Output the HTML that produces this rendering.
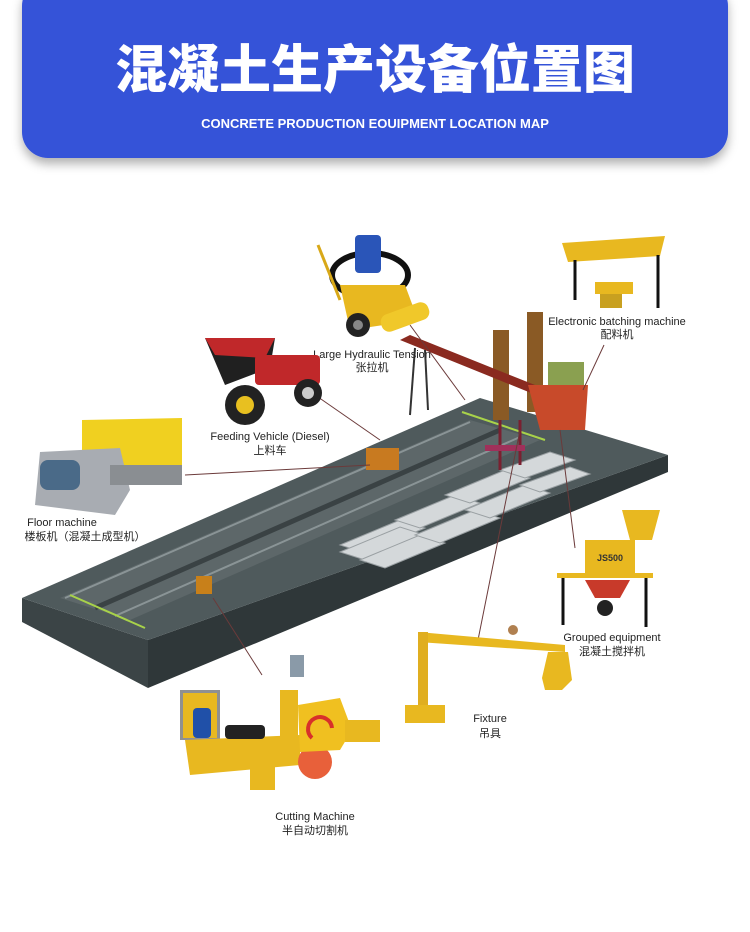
<!DOCTYPE html>
<html><head><meta charset="utf-8"><style>
html,body{margin:0;padding:0;background:#fff;width:750px;height:932px;overflow:hidden}
svg{display:block}
.t{font-family:"Liberation Sans","Noto Sans CJK SC",sans-serif;fill:#222;font-size:11px}
</style></head><body>
<svg width="750" height="932" viewBox="0 0 750 932" xmlns="http://www.w3.org/2000/svg">
<defs>
<filter id="sh" x="-5%" y="-10%" width="110%" height="130%"><feDropShadow dx="0" dy="6" stdDeviation="5" flood-color="#000" flood-opacity="0.3"/></filter>
</defs>
<rect x="22" y="-20" width="706" height="178" rx="26" fill="#3553d8" filter="url(#sh)"/>
<text x="375" y="88" text-anchor="middle" font-family="'Noto Sans CJK SC',sans-serif" font-weight="900" font-size="52" fill="#fff">混凝土生产设备位置图</text>
<text x="375" y="128" text-anchor="middle" font-family="'Liberation Sans',sans-serif" font-weight="bold" font-size="13" fill="#fff">CONCRETE PRODUCTION EOUIPMENT LOCATION MAP</text>

<!-- slab -->
<polygon points="22,598 148,640 148,688 22,622" fill="#3b4446"/>
<polygon points="148,640 668,455 668,472 148,688" fill="#2f3739"/>
<polygon points="22,598 480,398 668,455 148,640" fill="#4f5a5c"/>
<polygon points="60,598 470,420 540,440 130,620" fill="#5d6769"/>
<line x1="65" y1="598" x2="470" y2="422" stroke="#8a9496" stroke-width="2"/>
<line x1="95" y1="608" x2="500" y2="430" stroke="#3a4244" stroke-width="5"/>
<line x1="115" y1="616" x2="520" y2="437" stroke="#8a9496" stroke-width="2"/>
<line x1="70" y1="595" x2="145" y2="628" stroke="#a8d24a" stroke-width="2"/>
<line x1="462" y1="412" x2="545" y2="440" stroke="#a8d24a" stroke-width="2"/>
<g fill="#d4d8da" stroke="#9aa0a3" stroke-width="1">
<polygon points="340,545 400,520 425,528 365,553"/><polygon points="340,552 400,527 425,535 365,560"/>
<polygon points="360,560 420,535 445,543 385,568"/>
<polygon points="395,520 455,495 480,503 420,528"/><polygon points="415,535 475,510 500,518 440,543"/>
<polygon points="445,495 505,470 530,478 470,503"/><polygon points="465,510 525,485 550,493 490,518"/>
<polygon points="500,470 550,452 575,460 525,478"/><polygon points="520,485 570,467 590,474 540,492"/>
</g>
<rect x="493" y="330" width="16" height="90" fill="#8a5a25"/>
<rect x="527" y="312" width="16" height="100" fill="#8a5a25"/>
<polygon points="400,340 410,335 585,405 578,412" fill="#8a2a20"/>
<line x1="415" y1="348" x2="410" y2="415" stroke="#333" stroke-width="2"/>
<line x1="425" y1="350" x2="428" y2="410" stroke="#333" stroke-width="2"/>
<rect x="548" y="362" width="36" height="32" fill="#8aa050"/>
<polygon points="528,385 588,385 585,430 540,430" fill="#c84a2a"/>
<line x1="500" y1="420" x2="500" y2="470" stroke="#7a2030" stroke-width="3"/>
<line x1="520" y1="420" x2="520" y2="465" stroke="#7a2030" stroke-width="3"/>
<rect x="485" y="445" width="40" height="6" fill="#a0305a"/>
<rect x="366" y="448" width="33" height="22" fill="#c87a20"/>
<rect x="196" y="576" width="16" height="18" fill="#c8801a"/>

<g stroke="#6b3a3a" stroke-width="1" fill="none">
<line x1="185" y1="475" x2="370" y2="465"/>
<line x1="318" y1="397" x2="380" y2="440"/>
<line x1="410" y1="325" x2="465" y2="400"/>
<line x1="604" y1="345" x2="583" y2="390"/>
<line x1="560" y1="430" x2="575" y2="548"/>
<line x1="520" y1="430" x2="478" y2="640"/>
<line x1="213" y1="598" x2="262" y2="675"/>
</g>

<ellipse cx="370" cy="275" rx="38" ry="22" fill="none" stroke="#111" stroke-width="6"/>
<rect x="355" y="235" width="26" height="38" rx="4" fill="#2a55b8"/>
<polygon points="340,285 405,285 418,320 350,330" fill="#e8b820"/>
<rect x="380" y="308" width="50" height="18" rx="8" fill="#f0c82a" transform="rotate(-20 405 317)"/>
<circle cx="358" cy="325" r="12" fill="#222"/><circle cx="358" cy="325" r="5" fill="#888"/>
<line x1="318" y1="245" x2="340" y2="300" stroke="#d8a818" stroke-width="3"/>
<text class="t" x="372" y="358" text-anchor="middle" font-size="10">Large Hydraulic Tension</text>
<text class="t" x="372" y="371" text-anchor="middle" font-size="11">张拉机</text>

<polygon points="205,338 275,338 270,368 225,385" fill="#202020"/>
<polygon points="205,338 275,338 265,358 215,355" fill="#c0282a"/>
<rect x="255" y="355" width="65" height="30" rx="4" fill="#c0282a"/>
<circle cx="245" cy="405" r="20" fill="#222"/><circle cx="245" cy="405" r="9" fill="#e8c020"/>
<circle cx="308" cy="393" r="14" fill="#222"/><circle cx="308" cy="393" r="6" fill="#ccc"/>
<text class="t" x="270" y="440" text-anchor="middle" font-size="12">Feeding Vehicle (Diesel)</text>
<text class="t" x="270" y="454" text-anchor="middle" font-size="11">上料车</text>

<polygon points="82,420 182,418 182,468 112,482 82,470" fill="#f0d020"/>
<polygon points="40,452 120,448 130,490 115,515 35,505" fill="#a8acb2"/>
<rect x="40" y="460" width="40" height="30" rx="8" fill="#4a6a88"/>
<rect x="110" y="465" width="72" height="20" fill="#8a8e92"/>
<text class="t" x="62" y="526" text-anchor="middle" font-size="12">Floor machine</text>
<text class="t" x="85" y="540" text-anchor="middle" font-size="11">楼板机（混凝土成型机）</text>

<polygon points="562,243 665,236 660,256 568,262" fill="#e8b820"/>
<line x1="575" y1="260" x2="575" y2="300" stroke="#111" stroke-width="3"/>
<line x1="658" y1="255" x2="658" y2="308" stroke="#111" stroke-width="3"/>
<rect x="595" y="282" width="38" height="12" fill="#e8b820"/>
<rect x="600" y="294" width="22" height="14" fill="#c8a020"/>
<text class="t" x="617" y="325" text-anchor="middle" font-size="9.5">Electronic batching machine</text>
<text class="t" x="617" y="338" text-anchor="middle" font-size="11">配料机</text>

<polygon points="622,510 660,510 652,540 630,540" fill="#e8b820"/>
<rect x="585" y="540" width="50" height="33" fill="#e8b820"/>
<text x="597" y="561" font-family="Liberation Sans,sans-serif" font-weight="bold" font-size="9" fill="#333">JS500</text>
<rect x="557" y="573" width="96" height="5" fill="#e8b820"/>
<line x1="563" y1="578" x2="563" y2="625" stroke="#111" stroke-width="3"/>
<line x1="646" y1="578" x2="646" y2="627" stroke="#111" stroke-width="3"/>
<polygon points="585,580 630,580 620,598 595,598" fill="#c83a2a"/>
<circle cx="605" cy="608" r="8" fill="#222"/>
<text class="t" x="612" y="641" text-anchor="middle" font-size="10.5">Grouped equipment</text>
<text class="t" x="612" y="655" text-anchor="middle" font-size="11">混凝土搅拌机</text>

<polygon points="418,632 565,645 565,652 418,642" fill="#e8b820"/>
<rect x="418" y="632" width="10" height="90" fill="#e0ae20"/>
<rect x="405" y="705" width="40" height="18" fill="#e8b820"/>
<circle cx="513" cy="630" r="5" fill="#b08050"/>
<polygon points="548,652 568,652 572,680 562,690 545,690 542,678" fill="#e8b820"/>
<text class="t" x="490" y="722" text-anchor="middle" font-size="11">Fixture</text>
<text class="t" x="490" y="737" text-anchor="middle" font-size="11">吊具</text>

<rect x="180" y="690" width="40" height="50" fill="#909090"/>
<rect x="183" y="693" width="34" height="45" fill="#e8b820"/>
<rect x="193" y="708" width="18" height="30" rx="4" fill="#2050a8"/>
<polygon points="185,740 300,735 300,765 190,775" fill="#e8b820"/>
<rect x="225" y="725" width="40" height="14" rx="4" fill="#222"/>
<rect x="280" y="690" width="18" height="50" fill="#e8b820"/>
<rect x="290" y="655" width="14" height="22" fill="#8a9aa8"/>
<circle cx="315" cy="762" r="17" fill="#e8603a"/>
<polygon points="298,705 340,698 352,730 340,750 300,752" fill="#f0c020"/>
<path d="M312 738 A12 12 0 1 1 332 728" fill="none" stroke="#d8302a" stroke-width="4"/>
<rect x="345" y="720" width="35" height="22" fill="#e8b820"/>
<rect x="250" y="765" width="25" height="25" fill="#e8b820"/>
<text class="t" x="315" y="820" text-anchor="middle" font-size="11.5">Cutting Machine</text>
<text class="t" x="315" y="834" text-anchor="middle" font-size="11">半自动切割机</text>
</svg>
</body></html>
